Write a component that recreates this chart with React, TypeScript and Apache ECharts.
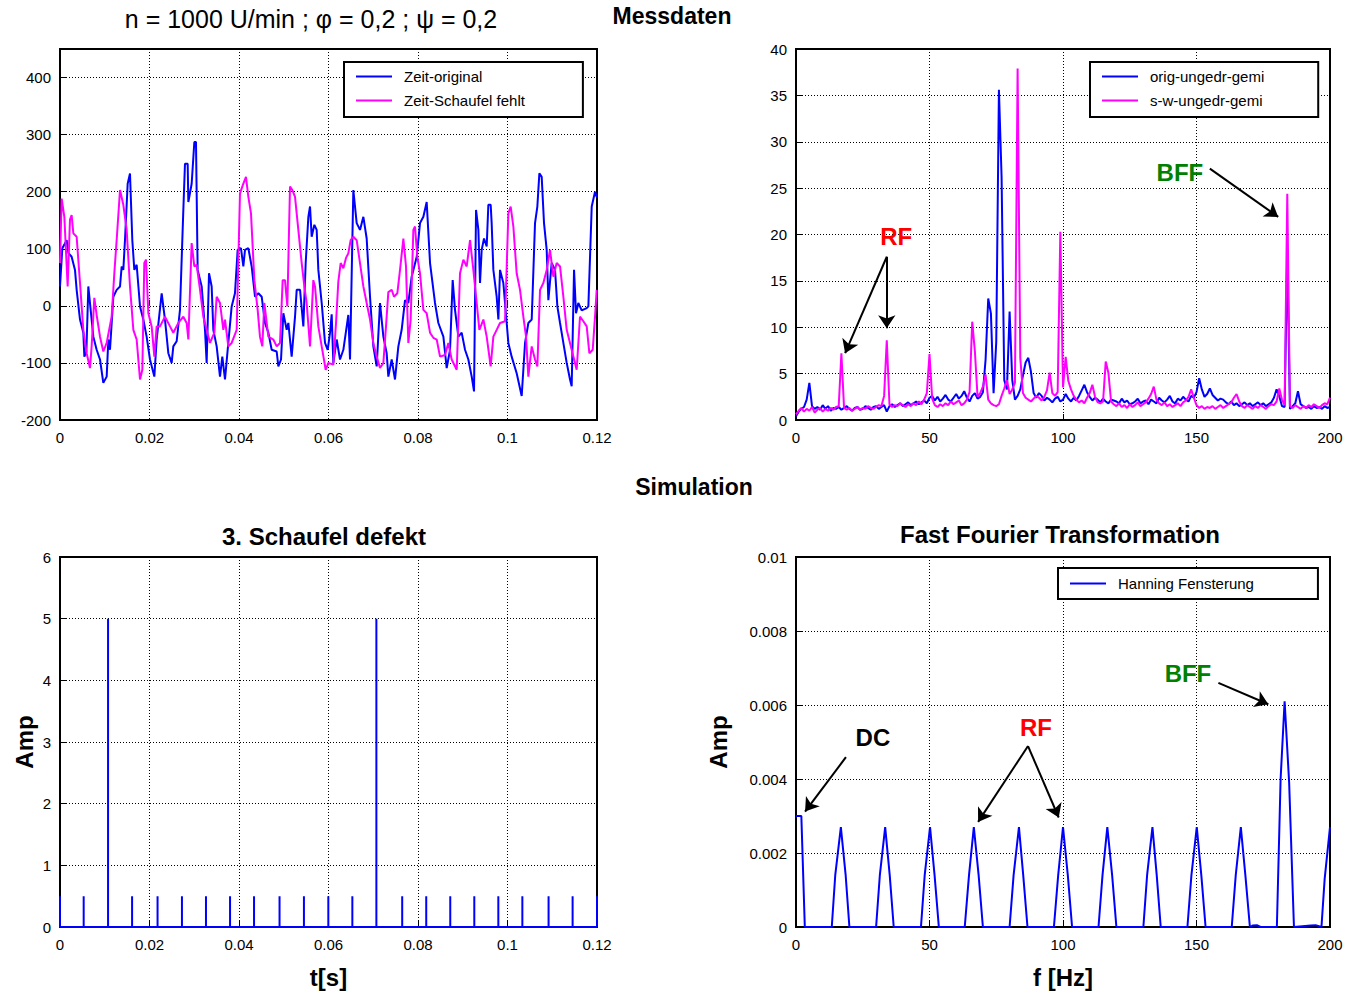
import React, { useEffect, useRef } from "react";
import * as echarts from "echarts";

const FONT = '"Liberation Sans", Arial, Helvetica, sans-serif';
const BLUE = "#0000ff";
const MAGENTA = "#ff00ff";
const RED = "#ff0000";
const GREEN = "#008000";

// ---- Messdaten: Zeitsignale (t in ms, Wert) ----
const ZEIT_ORIGINAL: number[][] = [
  [0, 34], [0.52, 101], [1.49, 115], [1.86, 93], [2.6, 86], [3.35, 63], [3.72, 28], [4.47, -24], [5.21, -47], [5.44, -89], [5.9, -80],
  [6.33, 34], [6.85, -7], [7.45, -54], [8.19, -77], [8.94, -94], [9.68, -135], [10.43, -124], [10.8, -59], [11.17, -77], [11.92, 16],
  [12.66, 28], [13.41, 34], [13.78, 69], [14.15, 63], [14.52, 115], [15.12, 214], [15.64, 232], [16.16, 115], [16.61, 63], [17.13, 72],
  [17.88, -1], [18.62, -24], [19.36, -54], [20.11, -94], [21.08, -124], [21.6, -59], [22.72, 22], [23.46, -24], [24.21, -83], [24.95, -100],
  [25.32, -71], [26.07, -62], [26.81, -7], [27.56, 168], [27.93, 249], [28.53, 249], [28.68, 182], [29.42, 214], [30.02, 287], [30.39, 287],
  [30.76, 63], [31.66, 34], [32.4, -42], [32.77, -100], [33.3, 57], [33.89, 34], [34.26, -42], [35.01, -71], [35.75, -124], [36.27, -89],
  [36.87, -129], [37.61, -65], [38.36, -1], [39.1, 22], [39.7, 98], [40.44, 101], [40.97, 69], [41.34, 98], [42.09, 101], [42.83, 69],
  [43.58, 16], [44.32, 22], [45.07, 16], [45.81, -30], [46.56, -47], [47.3, -77], [48.42, -80], [48.79, -106], [49.39, -94], [49.91, -13],
  [50.66, -42], [51.03, -30], [51.77, -89], [52.52, -19], [52.89, 28], [53.64, 28], [54.38, -36], [54.9, 75], [55.5, 156], [55.87, 174],
  [56.24, 121], [56.84, 142], [57.36, 133], [57.73, 63], [58.48, 5], [59.22, -65], [59.82, -77], [60.34, -47], [60.71, -15], [61.08, -100],
  [61.83, -59], [62.57, -94], [63.32, -77], [64.43, -16], [64.81, -94], [65.55, 203], [66.3, 145], [67.04, 133], [67.79, 156], [68.53, 118],
  [69.28, 16], [70.02, -71], [70.77, -106], [71.51, 5], [72.26, -54], [73.0, -83], [73.37, -124], [74.12, -94], [74.86, -129], [75.61, -71],
  [76.35, -42], [77.1, 10], [77.84, 5], [78.59, 51], [79.71, 86], [80.45, 145], [81.2, 156], [81.94, 182], [82.69, 75], [83.8, 5],
  [84.55, -30], [85.67, -54], [86.41, -109], [87.16, -77], [87.75, 45], [88.27, -7], [89.02, -54], [89.76, -47], [90.51, -77], [91.25, -94],
  [92.0, -124], [92.52, -150], [92.97, 168], [93.49, 133], [93.86, 40], [94.23, 98], [94.75, 118], [95.35, 104], [95.72, 177], [96.24, 177],
  [96.46, 145], [96.84, 63], [97.58, 16], [97.96, -24], [98.33, 63], [99.07, 40], [99.82, -30], [100.19, -65], [100.93, -89], [102.05, -118],
  [103.17, -158], [103.92, -65], [104.66, -30], [105.41, -24], [106.15, 145], [106.67, 174], [107.12, 232], [107.64, 226], [108.16, 145],
  [108.76, 98], [109.13, 10], [109.87, 75], [110.62, 63], [111.14, -1], [111.74, -30], [112.48, -65], [113.23, -100], [113.97, -129],
  [114.34, -141], [114.87, 63], [115.31, -13], [115.83, 5], [116.58, -8], [117.7, -4], [118.07, -1], [118.82, 174], [119.56, 200], [119.93, 191],
];

const ZEIT_SCHAUFEL_FEHLT: number[][] = [
  [0, 75], [0.37, 188], [0.97, 156], [1.71, 34], [2.23, 151], [2.6, 159], [2.98, 127], [3.72, 121], [4.47, 40], [5.21, -42], [5.96, -83],
  [6.7, -109], [7.07, -71], [7.67, 14], [8.19, -16], [8.94, -54], [9.68, -80], [10.43, -65], [11.54, -19], [12.14, 57], [12.66, 115],
  [13.41, 203], [14.15, 177], [14.9, 133], [15.64, 34], [16.39, -42], [17.13, -59], [17.88, -129], [18.4, -112], [18.84, 75], [19.22, 81],
  [19.74, -13], [20.48, -36], [21.08, -89], [21.6, -36], [22.34, -36], [23.46, -19], [24.58, -36], [25.32, -47], [26.44, -30], [27.56, -19],
  [28.3, -30], [28.68, -59], [29.42, 110], [30.02, 69], [30.54, 72], [31.29, 28], [32.03, -19], [32.77, -42], [33.52, -65], [34.49, -47],
  [35.01, 16], [35.75, 5], [36.5, -42], [36.87, -24], [37.61, -71], [38.36, -65], [39.48, -42], [40.22, 197], [40.97, 214], [41.56, 226],
  [42.09, 191], [42.68, 162], [43.43, 45], [44.17, -7], [44.69, -54], [45.21, -71], [45.66, 5], [46.56, -54], [47.67, -59], [48.42, -71],
  [49.16, -65], [49.76, 45], [50.28, 45], [50.8, -1], [51.4, 209], [51.92, 203], [52.52, 191], [53.26, 133], [54.01, 75], [54.6, 34],
  [55.12, 5], [55.87, -71], [56.61, 45], [56.99, 34], [57.73, -36], [58.48, -71], [59.37, -112], [59.96, -100], [61.08, -103], [61.68, -30],
  [62.2, 43], [62.72, 75], [63.32, 66], [63.91, 84], [64.43, 92], [64.95, 115], [65.55, 121], [66.3, 115], [67.04, 75], [67.79, 34],
  [68.53, 5], [69.28, -24], [70.02, -65], [70.77, -89], [71.51, -109], [72.26, -100], [72.85, -36], [73.37, 24], [74.12, 28], [74.64, 16],
  [75.38, 22], [75.98, 63], [76.73, 118], [77.32, 69], [77.84, -65], [78.36, -24], [78.96, 133], [79.33, 139], [79.85, 86], [80.45, 57],
  [81.2, -7], [81.94, -13], [82.69, -47], [83.43, -56], [84.18, -59], [84.92, -89], [86.04, -86], [86.78, -65], [87.53, -94], [88.65, -112],
  [89.39, 57], [90.14, 81], [90.88, 69], [91.63, 115], [92.37, 63], [93.12, 5], [93.71, -42], [94.61, -24], [95.35, -54], [96.24, -106],
  [96.84, -54], [97.58, -42], [98.33, -30], [99.45, -27], [100.19, 162], [100.71, 174], [101.31, 139], [102.05, 57], [102.8, 28],
  [103.54, -19], [104.14, -54], [104.66, -124], [105.41, -71], [106.15, -94], [106.67, -106], [107.27, 28], [108.01, 40], [108.76, 63],
  [109.5, 98], [110.25, 51], [110.99, 75], [111.74, 69], [112.48, 16], [113.23, -42], [114.34, -77], [115.46, -112], [116.2, -19],
  [116.95, -27], [117.7, -36], [118.29, -83], [119.04, -77], [119.56, -19], [119.93, 28],
];

// ---- Messdaten: Spektren, 1 Hz Schritt von 0 bis 200 Hz ----
const SPEKTRUM_STEP_HZ = 1;
const ORIG_UNGEDR_GEMI: number[] = [
  0.4, 0.9, 1.2, 1.4, 2.2, 4.0, 1.5, 1.2, 1.4, 1.1, 1.6, 1.2, 1.5, 1.0, 1.3, 1.2, 1.4, 1.1, 1.3, 1.5,
  1.2, 1.0, 1.3, 1.4, 1.1, 1.2, 1.5, 1.3, 1.1, 1.4, 1.5, 1.2, 1.4, 1.6, 0.9, 1.5, 1.7, 1.4, 1.6, 1.8,
  1.5, 1.7, 1.9, 1.6, 1.8, 2.0, 1.7, 1.9, 2.1, 1.8, 2.4, 2.6, 2.1, 2.5, 2.0, 2.3, 2.7, 2.2, 2.0, 2.4,
  2.8, 2.3, 2.6, 3.1, 2.4, 2.0, 2.6, 2.9, 2.3, 2.5, 3.0, 6.5, 13.1, 11.5, 2.9, 8.4, 35.6, 26.2, 4.3, 3.3,
  11.7, 4.3, 2.2, 2.6, 3.3, 4.8, 6.2, 6.7, 5.2, 2.9, 2.4, 2.9, 2.6, 2.1, 2.4, 2.2, 1.9, 2.3, 2.5, 2.0,
  2.2, 2.8, 2.3, 2.0, 2.4, 2.1, 2.6, 3.2, 3.8, 3.0, 2.5, 2.1, 2.4, 2.2, 1.9, 2.3, 2.0, 1.8, 2.2, 2.1,
  2.0, 1.8, 2.3, 1.9, 2.1, 1.7, 1.8, 2.0, 2.3, 1.8, 2.0, 2.1, 1.7, 2.2, 2.0, 1.8, 2.4, 2.1, 1.9, 2.2,
  2.6, 2.0, 1.8, 2.3, 2.1, 2.5, 2.2, 2.0, 2.6, 2.4, 3.0, 4.5, 3.3, 2.5, 2.8, 3.4, 2.7, 2.4, 2.1, 2.3,
  2.2, 1.9, 1.7, 2.0, 1.6, 1.8, 1.5, 1.7, 1.9, 1.6, 1.8, 1.5, 1.7, 1.9, 1.6, 1.8, 1.5, 1.7, 1.9, 2.4,
  3.3, 2.6, 1.5, 1.4, 18.0, 1.2, 1.5, 1.8, 3.1, 1.7, 1.5, 1.3, 1.4, 1.2, 1.5, 1.3, 1.4, 1.2, 1.5, 1.3,
  1.4,
];
const S_W_UNGEDR_GEMI: number[] = [
  0.6, 1.0, 1.3, 0.9, 1.2, 1.0, 1.4, 0.8, 1.1, 1.3, 0.9, 1.2, 1.0, 1.3, 1.1, 1.4, 1.5, 7.2, 1.3, 1.1,
  1.3, 1.0, 1.2, 1.4, 1.1, 1.3, 1.2, 1.5, 1.3, 1.2, 1.4, 1.6, 1.5, 2.6, 8.6, 1.7, 1.4, 1.6, 1.5, 1.8,
  1.6, 1.4, 1.7, 1.5, 1.8, 1.6, 2.0, 1.7, 2.2, 2.9, 7.1, 2.3, 1.6, 1.4, 1.7, 1.5, 1.8, 1.6, 2.0, 1.7,
  1.9, 2.1, 1.6, 1.8, 2.2, 3.0, 10.6, 7.4, 2.5, 2.9, 3.6, 4.9, 2.2, 1.8, 1.6, 1.5, 1.7, 2.6, 3.4, 4.3,
  2.8, 3.3, 4.0, 37.9, 6.7, 2.9, 2.4, 2.2, 2.0, 2.3, 2.6, 2.4, 2.1, 2.5, 3.2, 5.1, 2.9, 2.6, 3.0, 20.3,
  3.5, 6.8, 4.2, 3.3, 2.6, 2.2, 1.9, 2.1, 1.8, 2.4, 2.9, 3.8, 2.5, 1.9, 1.8, 2.0, 6.3, 5.1, 2.0, 1.7,
  1.5, 1.8, 1.4, 1.6, 1.3, 1.7, 1.4, 1.6, 1.9, 1.5, 1.7, 1.9, 2.3, 2.8, 3.6, 2.2, 1.8, 1.6, 1.9, 1.5,
  1.7, 1.4, 1.6, 1.8, 1.5, 1.9, 2.1, 2.5, 3.3, 2.4, 1.6, 1.3, 1.5, 1.2, 1.4, 1.3, 1.5, 1.2, 1.4, 1.6,
  1.3, 1.5, 1.7, 1.9, 2.4, 2.8, 2.0, 1.5, 1.3, 1.6, 1.4, 1.2, 1.5, 1.3, 1.6, 1.4, 1.2, 1.5, 1.7, 1.6,
  2.0, 3.4, 2.2, 1.6, 24.4, 1.5, 1.3, 1.6, 1.4, 1.2, 1.5, 1.3, 1.6, 1.4, 1.7, 1.5, 1.3, 1.6, 1.8, 1.7,
  2.4,
];

// ---- Simulation: Impulsfolge (t in s, Amplitude) ----
const IMPULS_T: number[] = [
  0, 0.00529, 0.01074, 0.01611, 0.0218, 0.02725, 0.03262, 0.038, 0.04336, 0.04906, 0.05451, 0.05996,
  0.06533, 0.0707, 0.07647, 0.08184, 0.08721, 0.09258, 0.09795, 0.10332, 0.10918, 0.11455, 0.12,
];
const IMPULS_A: number[] = [
  0.5, 0.5, 5, 0.5, 0.5, 0.5, 0.5, 0.5, 0.5, 0.5, 0.5, 0.5,
  0.5, 5, 0.5, 0.5, 0.5, 0.5, 0.5, 0.5, 0.5, 0.5, 0.5,
];

// ---- Simulation: FFT mit Hanning-Fenster (f in Hz, Amplitude) ----
const HANNING_FENSTERUNG: number[][] = [
  [0, 0.003], [2.0, 0.003], [3.3, 0],
  [13.4, 0], [14.7, 0.0014], [16.8, 0.0027], [18.6, 0.0014], [20.0, 0],
  [30.0, 0], [31.4, 0.0014], [33.4, 0.0027], [35.1, 0.0014], [36.6, 0],
  [46.8, 0], [48.2, 0.0014], [50.2, 0.0027], [51.9, 0.0014], [53.5, 0],
  [63.2, 0], [64.8, 0.0014], [66.6, 0.0027], [68.4, 0.0014], [70.0, 0],
  [80.0, 0], [81.5, 0.0014], [83.5, 0.0027], [85.1, 0.0014], [86.7, 0],
  [96.6, 0], [98.2, 0.0014], [100.0, 0.0027], [101.8, 0.0014], [103.4, 0],
  [113.3, 0], [114.8, 0.0014], [116.6, 0.0027], [118.4, 0.0014], [120.0, 0],
  [130.1, 0], [131.5, 0.0014], [133.5, 0.0027], [135.1, 0.0014], [136.6, 0],
  [146.6, 0], [148.1, 0.0014], [150.1, 0.0027], [151.8, 0.0014], [153.4, 0],
  [163.2, 0], [164.7, 0.0014], [166.6, 0.0027], [168.3, 0.0014], [170.0, 0],
  [171.0, 0.00004], [172.6, 0.00005], [174.0, 0],
  [180.1, 0], [181.5, 0.004], [183.0, 0.0061], [184.7, 0.0039], [186.5, 0],
  [192.8, 0.00004], [194.6, 0.00005], [196.8, 0],
  [198.0, 0.0013], [200, 0.0027],
];

// ---- Annotationen (Datenkoordinaten) ----
const MESS_LABELS = [
  { text: "RF", f: 37.5, v: 19.8, color: RED },
  { text: "BFF", f: 143.8, v: 26.7, color: GREEN },
];
const MESS_ARROWS: number[][] = [
  [34.0, 17.6, 18.4, 7.2],
  [34.0, 17.6, 34.0, 9.9],
  [155.0, 27.1, 180.6, 21.9],
];
const SIM_LABELS = [
  { text: "DC", f: 28.8, v: 0.00511, color: "#000000" },
  { text: "RF", f: 89.9, v: 0.00538, color: RED },
  { text: "BFF", f: 146.8, v: 0.00684, color: GREEN },
];
const SIM_ARROWS: number[][] = [
  [18.7, 0.00459, 3.4, 0.00312],
  [86.9, 0.00489, 68.2, 0.00284],
  [86.9, 0.00489, 98.4, 0.00296],
  [158.2, 0.0066, 176.9, 0.00602],
];

const TEXTS = [
  { text: "n = 1000 U/min ; φ = 0,2 ; ψ = 0,2", x: 311, y: 19, bold: false, size: 25 },
  { text: "Messdaten", x: 672, y: 16, bold: true, size: 23 },
  { text: "Simulation", x: 694, y: 487, bold: true, size: 23 },
  { text: "3. Schaufel defekt", x: 324, y: 536, bold: true, size: 24 },
  { text: "Fast Fourier Transformation", x: 1060, y: 534, bold: true, size: 24 },
];

function buildOption(): any {
  const tick = { show: true, inside: true, length: 6, lineStyle: { color: "#000", width: 1 } };
  const split = { show: true, lineStyle: { color: "#000", width: 1, type: [1, 2] } };
  const label = { color: "#000", fontSize: 15, fontFamily: FONT, margin: 9 };
  const xAx = (gi: number, min: number, max: number, interval: number, extra: any = {}) => ({
    gridIndex: gi, type: "value", min, max, interval,
    axisLine: { show: false }, axisTick: tick, splitLine: split,
    axisLabel: { ...label, margin: 10 }, ...extra,
  });
  const yAx = (gi: number, min: number, max: number, interval: number, extra: any = {}) => ({
    gridIndex: gi, type: "value", min, max, interval,
    axisLine: { show: false }, axisTick: tick, splitLine: split,
    axisLabel: { ...label, ...(extra.axisLabel || {}) },
    ...Object.fromEntries(Object.entries(extra).filter(([k]) => k !== "axisLabel")),
  });
  const nameStyle = { color: "#000", fontSize: 24, fontWeight: "bold", fontFamily: FONT };

  const legendBase = {
    orient: "vertical", borderColor: "#000", borderWidth: 2, backgroundColor: "#fff",
    icon: "rect", itemWidth: 36, itemHeight: 2, itemGap: 9, selectedMode: false,
  };
  const legendText = { color: "#000", fontSize: 15, fontFamily: FONT, padding: [0, 0, 0, 7] };

  const arrowLine = (arr: number[][]) => ({
    silent: true, symbol: ["none", "arrow"], symbolSize: 13,
    lineStyle: { color: "#000", width: 2, type: "solid" },
    label: { show: false }, emphasis: { disabled: true },
    data: arr.map((a) => [{ coord: [a[0], a[1]] }, { coord: [a[2], a[3]] }]),
  });
  const labelPoints = (arr: { text: string; f: number; v: number; color: string }[]) => ({
    silent: true, symbol: "circle", symbolSize: 1, itemStyle: { color: "rgba(0,0,0,0)" },
    emphasis: { disabled: true },
    data: arr.map((l) => ({
      coord: [l.f, l.v],
      label: { show: true, position: "inside", formatter: l.text, color: l.color, fontSize: 24, fontWeight: "bold", fontFamily: FONT },
    })),
  });

  const impulsData: number[][] = [];
  IMPULS_T.forEach((t, i) => {
    impulsData.push([t, 0], [t, IMPULS_A[i]], [t, 0]);
  });

  const lineSeries = (name: string, xi: number, color: string, data: number[][], extra: any = {}) => ({
    name, type: "line", xAxisIndex: xi, yAxisIndex: xi, data, symbol: "none", showSymbol: false,
    color, itemStyle: { color }, lineStyle: { color, width: 2 }, silent: true, ...extra,
  });

  return {
    animation: false,
    backgroundColor: "#fff",
    textStyle: { fontFamily: FONT },
    grid: [
      { left: 60, top: 49, width: 537, height: 371 },
      { left: 796, top: 49, width: 534, height: 371 },
      { left: 60, top: 557, width: 537, height: 370 },
      { left: 796, top: 557, width: 534, height: 370 },
    ].map((g) => ({ ...g, show: true, borderColor: "#000", borderWidth: 2, backgroundColor: "#fff", containLabel: false })),
    xAxis: [
      xAx(0, 0, 0.12, 0.02),
      xAx(1, 0, 200, 50),
      xAx(2, 0, 0.12, 0.02, { name: "t[s]", nameLocation: "middle", nameGap: 38, nameTextStyle: nameStyle }),
      xAx(3, 0, 200, 50, { name: "f [Hz]", nameLocation: "middle", nameGap: 38, nameTextStyle: nameStyle }),
    ],
    yAxis: [
      yAx(0, -200, 450, 100, { axisLabel: { showMaxLabel: false } }),
      yAx(1, 0, 40, 5),
      yAx(2, 0, 6, 1, { name: "Amp", nameLocation: "middle", nameGap: 24, nameTextStyle: nameStyle }),
      yAx(3, 0, 0.01, 0.002, { name: "Amp", nameLocation: "middle", nameGap: 66, nameTextStyle: nameStyle }),
    ],
    legend: [
      {
        ...legendBase, left: 344, top: 62, padding: [7, 58, 9, 12],
        data: ["Zeit-original", "Zeit-Schaufel fehlt"],
        textStyle: legendText,
      },
      {
        ...legendBase, left: 1090, top: 62, padding: [7, 54, 9, 12],
        data: ["orig-ungedr-gemi", "s-w-ungedr-gemi"],
        textStyle: legendText,
      },
      {
        ...legendBase, left: 1058, top: 568, padding: [8, 64, 8, 12],
        data: ["Hanning Fensterung"],
        textStyle: legendText,
      },
    ],
    graphic: TEXTS.map((t) => ({
      type: "text", x: t.x, y: t.y, silent: true,
      style: {
        text: t.text, fill: "#000", align: "center", verticalAlign: "middle",
        font: `${t.bold ? "bold " : ""}${t.size}px ${FONT}`,
      },
    })),
    series: [
      lineSeries("Zeit-original", 0, BLUE, ZEIT_ORIGINAL.map((p) => [p[0] / 1000, p[1]])),
      lineSeries("Zeit-Schaufel fehlt", 0, MAGENTA, ZEIT_SCHAUFEL_FEHLT.map((p) => [p[0] / 1000, p[1]])),
      lineSeries("orig-ungedr-gemi", 1, BLUE, ORIG_UNGEDR_GEMI.map((v, i) => [i * SPEKTRUM_STEP_HZ, v])),
      lineSeries("s-w-ungedr-gemi", 1, MAGENTA, S_W_UNGEDR_GEMI.map((v, i) => [i * SPEKTRUM_STEP_HZ, v]), {
        markLine: arrowLine(MESS_ARROWS),
        markPoint: labelPoints(MESS_LABELS),
      }),
      lineSeries("Impulsfolge", 2, BLUE, impulsData),
      lineSeries("Hanning Fensterung", 3, BLUE, HANNING_FENSTERUNG, {
        markLine: arrowLine(SIM_ARROWS),
        markPoint: labelPoints(SIM_LABELS),
      }),
    ],
  };
}

export default function App() {
  const ref = useRef<HTMLDivElement>(null);
  useEffect(() => {
    if (!ref.current) return;
    const chart = echarts.init(ref.current, null, { renderer: "svg" });
    chart.setOption(buildOption());
    return () => chart.dispose();
  }, []);
  return (
    <div
      ref={ref}
      style={{ position: "fixed", left: 0, top: 0, width: 1349, height: 996, background: "#fff" }}
    />
  );
}
